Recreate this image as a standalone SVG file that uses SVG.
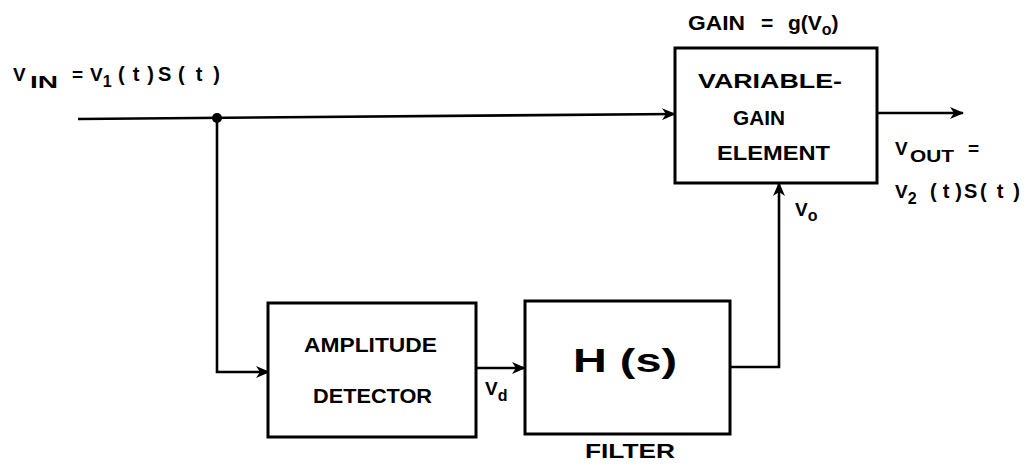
<svg xmlns="http://www.w3.org/2000/svg" width="1030" height="475" viewBox="0 0 1030 475">
<style>
.box{fill:#fff;stroke:#000;stroke-width:3}
.wire{fill:none;stroke:#000;stroke-width:2.6}
text{font-family:"Liberation Sans",Arial,sans-serif;font-weight:bold;fill:#000}
.t{font-size:21px}
.s{font-size:19px}
.sub{font-size:16px}
.p{font-size:20px}
</style>
<defs>
<marker id="ah" viewBox="0 0 14 12" refX="13" refY="6" markerWidth="14" markerHeight="12" markerUnits="userSpaceOnUse" orient="auto">
<path d="M0,0 L14,6 L0,12 L4,6 Z" fill="#000"/>
</marker>
</defs>
<rect width="1030" height="475" fill="#fff"/>
<g id="connectors">
<path class="wire" d="M78 119 L675 114" marker-end="url(#ah)"/>
<circle cx="217" cy="118" r="5" fill="#000"/>
<path class="wire" d="M217 118 V372 H269" marker-end="url(#ah)"/>
<path class="wire" d="M476 368 H525" marker-end="url(#ah)"/>
<path class="wire" d="M730 367 H779 V183" marker-end="url(#ah)"/>
<path class="wire" d="M877 113 H963" marker-end="url(#ah)"/>
</g>
<g id="vga">
<rect class="box" x="675" y="48" width="202" height="135"/>
<text class="t" x="698" y="88" textLength="144" lengthAdjust="spacingAndGlyphs">VARIABLE-</text>
<text class="t" x="733" y="125" textLength="52" lengthAdjust="spacingAndGlyphs">GAIN</text>
<text class="t" x="717" y="160" textLength="113" lengthAdjust="spacingAndGlyphs">ELEMENT</text>
</g>
<g id="detector">
<rect class="box" x="268" y="303" width="208" height="134"/>
<text class="t" x="304" y="352" textLength="133" lengthAdjust="spacingAndGlyphs">AMPLITUDE</text>
<text class="t" x="313" y="403" textLength="119" lengthAdjust="spacingAndGlyphs">DETECTOR</text>
</g>
<g id="filter">
<rect class="box" x="525" y="301" width="205" height="133"/>
<text x="573" y="372" font-size="33" textLength="104" lengthAdjust="spacingAndGlyphs">H (s)</text>
<text class="t" x="585" y="458" textLength="90" lengthAdjust="spacingAndGlyphs">FILTER</text>
</g>
<g id="labels">
<text class="s" x="13" y="81">V<tspan class="sub" x="30" dy="7" textLength="28" lengthAdjust="spacingAndGlyphs">IN</tspan></text>
<text class="s" x="72" y="81">=</text>
<text class="s" x="90" y="81">V<tspan class="sub" dy="6">1</tspan></text>
<text class="p" x="118" y="81" textLength="36" lengthAdjust="spacing">(t)</text>
<text class="p" x="158" y="81">S</text>
<text class="p" x="178" y="81" textLength="42" lengthAdjust="spacing">(t)</text>
<text class="t" x="688" y="30" textLength="57" lengthAdjust="spacingAndGlyphs">GAIN</text>
<text class="t" x="761" y="30">=</text>
<text class="t" x="788" y="30">g(V<tspan class="sub" dy="5">o</tspan><tspan dy="-5">)</tspan></text>
<text class="s" x="895" y="155" font-size="21">V<tspan class="sub" x="910" dy="7" font-size="19" textLength="44" lengthAdjust="spacingAndGlyphs">OUT</tspan></text>
<text class="s" x="968" y="155">=</text>
<text class="s" x="895" y="198" font-size="21">V<tspan class="sub" dy="6" font-size="19">2</tspan></text>
<text class="p" x="930" y="198" textLength="32" lengthAdjust="spacing">(t)</text>
<text class="p" x="964" y="198">S</text>
<text class="p" x="980" y="198" textLength="40" lengthAdjust="spacing">(t)</text>
<text class="s" x="795" y="216" font-size="20">V<tspan class="sub" dy="5" font-size="18">o</tspan></text>
<text class="s" x="485" y="395" font-size="20">V<tspan class="sub" dy="6" font-size="18">d</tspan></text>
</g>
</svg>
